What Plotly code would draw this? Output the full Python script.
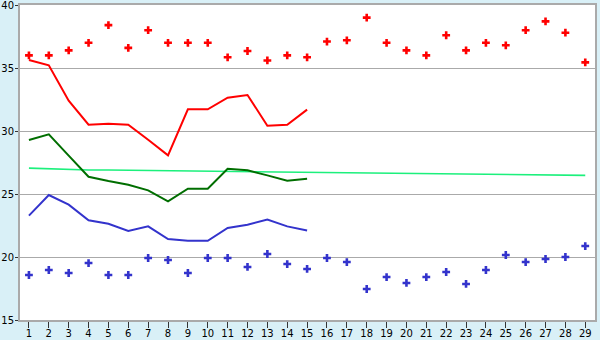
import plotly.graph_objects as go

days = list(range(1, 30))
line_days = list(range(1, 16))

red_points = [36.0, 36.0, 36.4, 37.0, 38.4, 36.6, 38.0, 37.0, 37.0, 37.0,
              35.85, 36.35, 35.6, 36.0, 35.85, 37.1, 37.2, 39.0, 37.0, 36.4,
              36.0, 37.6, 36.4, 37.0, 36.8, 38.0, 38.7, 37.8, 35.45]
blue_points = [18.57, 18.97, 18.73, 19.52, 18.57, 18.57, 19.92, 19.76, 18.73, 19.92,
               19.92, 19.21, 20.24, 19.44, 19.05, 19.92, 19.6, 17.46, 18.41, 17.94,
               18.41, 18.81, 17.86, 18.97, 20.16, 19.6, 19.84, 20.0, 20.87]
red_line = [35.63, 35.21, 32.4, 30.5, 30.58, 30.5, 29.3, 28.07, 31.72, 31.72,
            32.64, 32.86, 30.42, 30.5, 31.7]
green_line = [29.29, 29.74, 28.05, 26.37, 26.03, 25.74, 25.29, 24.42, 25.42, 25.42,
              27.0, 26.88, 26.48, 26.06, 26.21]
blue_line = [23.28, 24.92, 24.15, 22.92, 22.64, 22.06, 22.43, 21.43, 21.29, 21.29,
             22.3, 22.56, 22.98, 22.43, 22.11]
trend_line = [27.05, 27.0, 26.92, 26.9, 26.9, 26.88, 26.86, 26.84, 26.82, 26.8,
              26.8, 26.79, 26.77, 26.75, 26.73, 26.72, 26.71, 26.7, 26.68, 26.66,
              26.64, 26.62, 26.6, 26.56, 26.52, 26.5, 26.49, 26.48, 26.48]
y_ticks = [15, 20, 25, 30, 35, 40]

fig = go.Figure()
fig.add_trace(go.Scatter(x=days, y=trend_line, mode="lines",
                         line=dict(color="#1cf07c", width=1.6)))
fig.add_trace(go.Scatter(x=line_days, y=red_line, mode="lines",
                         line=dict(color="#ff0000", width=2)))
fig.add_trace(go.Scatter(x=line_days, y=green_line, mode="lines",
                         line=dict(color="#006e00", width=2)))
fig.add_trace(go.Scatter(x=line_days, y=blue_line, mode="lines",
                         line=dict(color="#3333cc", width=2)))
fig.add_trace(go.Scatter(x=days, y=red_points, mode="markers",
                         marker=dict(symbol="cross", size=6.5, color="#ff0000", line=dict(width=0))))
fig.add_trace(go.Scatter(x=days, y=blue_points, mode="markers",
                         marker=dict(symbol="cross", size=6.5, color="#3333cc", line=dict(width=0))))

fig.update_layout(
    width=600, height=340,
    margin=dict(l=20, r=5, t=5, b=20),
    paper_bgcolor="#d9f0f7",
    plot_bgcolor="#ffffff",
    showlegend=False,
    font=dict(family="DejaVu Sans", size=10, color="#000000"),
)
fig.update_xaxes(range=[0.55, 29.49], tickmode="array", tickvals=days,
                 ticktext=[str(d) for d in days], automargin=False,
                 ticklabeloverflow="allow", ticklabelstandoff=-3,
                 showgrid=False, zeroline=False,
                 showline=True, linecolor="#aaaaaa", linewidth=2, mirror=True,
                 ticks="outside", ticklen=6, tickcolor="#333333", tickwidth=1)
fig.update_yaxes(range=[15, 40], tickmode="array", tickvals=y_ticks, automargin=False,
                 ticklabeloverflow="allow", ticklabelstandoff=-1,
                 showgrid=True, gridcolor="#aaaaaa", gridwidth=1, zeroline=False,
                 showline=True, linecolor="#aaaaaa", linewidth=2, mirror=True,
                 ticks="outside", ticklen=3, tickcolor="#333333", tickwidth=1)

fig.write_html("out.html")
